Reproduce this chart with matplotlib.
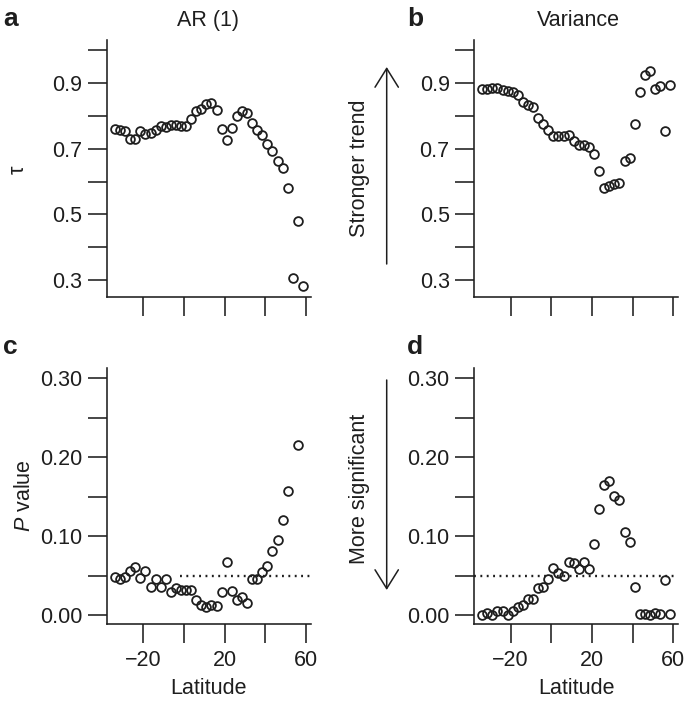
import numpy as np
import matplotlib
matplotlib.use("Agg")
import matplotlib.pyplot as plt
from matplotlib.patches import FancyArrowPatch

plt.rcParams['font.family'] = ['Liberation Sans', 'DejaVu Sans']
plt.rcParams['mathtext.fontset'] = 'custom'
plt.rcParams['mathtext.it'] = 'Liberation Sans:italic'
plt.rcParams['mathtext.rm'] = 'Liberation Sans'

# ---- data ----
latitude = [-34, -31.5, -29, -26.5, -24, -21.5, -19, -16.5, -14, -11.5,
            -9, -6.5, -4, -1.5, 1, 3.5, 6, 8.5, 11, 13.5,
            16, 18.5, 21, 23.5, 26, 28.5, 31, 33.5, 36, 38.5,
            41, 43.5, 46, 48.5, 51, 53.5, 56, 58.5]

tau_ar1 = [0.760, 0.758, 0.753, 0.729, 0.729, 0.754, 0.744, 0.749, 0.758, 0.771,
           0.766, 0.773, 0.773, 0.771, 0.771, 0.791, 0.814, 0.821, 0.836, 0.841,
           0.819, 0.761, 0.728, 0.764, 0.800, 0.814, 0.810, 0.779, 0.758, 0.741,
           0.715, 0.694, 0.663, 0.642, 0.582, 0.305, 0.481, 0.282]

tau_var = [0.882, 0.884, 0.886, 0.886, 0.880, 0.876, 0.872, 0.863, 0.844, 0.833,
           0.829, 0.795, 0.776, 0.758, 0.740, 0.740, 0.740, 0.742, 0.723, 0.711,
           0.712, 0.707, 0.683, 0.633, 0.581, 0.588, 0.593, 0.597, 0.664, 0.671,
           0.777, 0.873, 0.924, 0.936, 0.882, 0.893, 0.754, 0.894]

p_ar1 = [0.048, 0.0456, 0.049, 0.0566, 0.0616, 0.0468, 0.0557, 0.0355, 0.046, 0.0355,
         0.046, 0.0291, 0.034, 0.032, 0.032, 0.032, 0.0194, 0.0131, 0.011, 0.0131,
         0.0122, 0.0291, 0.068, 0.0312, 0.0194, 0.0228, 0.0152, 0.0464, 0.0464, 0.0544,
         0.0629, 0.0819, 0.0954, 0.1207, 0.1574, np.nan, 0.2148, np.nan]

p_var = [0.000, 0.0025, 0.000, 0.005, 0.006, 0.000, 0.006, 0.011, 0.0135, 0.020,
         0.020, 0.034, 0.036, 0.046, 0.060, 0.054, 0.050, 0.0675, 0.0667, 0.058,
         0.0675, 0.059, 0.090, 0.135, 0.165, 0.170, 0.151, 0.146, 0.105, 0.093,
         0.0354, 0.001, 0.001, 0.000, 0.003, 0.001, 0.044, 0.001]

tau_ticks = [0.3, 0.4, 0.5, 0.6, 0.7, 0.8, 0.9, 1.0]
tau_labels = ['0.3', '', '0.5', '', '0.7', '', '0.9', '']
p_ticks = [0.0, 0.05, 0.10, 0.15, 0.20, 0.25, 0.30]
p_labels = ['0.00', '', '0.10', '', '0.20', '', '0.30']
x_ticks = [-20, 0, 20, 40, 60]
x_labels = ['\u221220', '', '20', '', '60']
sig_level = 0.05

# ---- layout ----
W, H = 685, 702
fig = plt.figure(figsize=(W / 100, H / 100), dpi=100)
ink = '#1e1e1e'

def box(x0, y0, x1, y1):
    return [x0 / W, 1 - y1 / H, (x1 - x0) / W, (y1 - y0) / H]

axa = fig.add_axes(box(107, 40, 310.7, 297))
axb = fig.add_axes(box(474.3, 40, 678, 297))
axc = fig.add_axes(box(107, 368, 310.7, 624.3))
axd = fig.add_axes(box(474.3, 368, 678, 624.3))

def style(ax, yt, yl, bottom):
    for s in ['top', 'right']:
        ax.spines[s].set_visible(False)
    for s in ['left', 'bottom']:
        ax.spines[s].set_linewidth(1.15)
        ax.spines[s].set_color(ink)
    ax.set_xlim(-37.9, 62.3)
    ax.set_xticks(x_ticks)
    ax.set_xticklabels(x_labels if bottom else [''] * len(x_ticks))
    ax.set_yticks(yt)
    ax.set_yticklabels(yl)
    ax.tick_params(axis='both', direction='out', length=13.7, width=1.15,
                   color=ink, labelcolor=ink, labelsize=15.5)
    ax.tick_params(axis='x', pad=5)
    ax.tick_params(axis='y', pad=4)

mk = dict(marker='o', linestyle='none', markersize=6.3, markerfacecolor='none',
          markeredgecolor=ink, markeredgewidth=1.3, clip_on=False, zorder=3)

for ax, vals in [(axa, tau_ar1), (axb, tau_var)]:
    ax.plot(latitude, vals, **mk)
    ax.set_ylim(0.248, 1.032)
    style(ax, tau_ticks, tau_labels, False)

for ax, vals in [(axc, p_ar1), (axd, p_var)]:
    ax.plot(latitude, vals, **mk)
    ax.set_ylim(-0.0114, 0.3127)
    style(ax, p_ticks, p_labels, True)
    ax.set_xlabel('Latitude', fontsize=15.5, color=ink, labelpad=5)

axc.plot([-2, 62.3], [sig_level, sig_level], linestyle=(0, (0.8, 1.9)),
         color=ink, lw=1.7, zorder=2, clip_on=False)
axd.plot([-37.9, 62.3], [sig_level, sig_level], linestyle=(0, (0.8, 1.9)),
         color=ink, lw=1.7, zorder=2, clip_on=False)

def ftext(x, y, s, **kw):
    fig.text(x / W, 1 - y / H, s, color=ink, **kw)

ftext(3, 26, 'a', fontsize=19, fontweight='bold', ha='left', va='baseline')
ftext(407, 26, 'b', fontsize=19, fontweight='bold', ha='left', va='baseline')
ftext(3, 354, 'c', fontsize=19, fontweight='bold', ha='left', va='baseline')
ftext(407, 354, 'd', fontsize=19, fontweight='bold', ha='left', va='baseline')

ftext(208, 26, 'AR (1)', fontsize=15.5, ha='center', va='baseline')
ftext(578, 26, 'Variance', fontsize=15.5, ha='center', va='baseline')

ftext(18, 170, '\u03c4', fontsize=15.5, rotation=90, ha='center', va='center')
ftext(25, 496, r'$P$ value', fontsize=15.5, rotation=90, ha='center', va='center')
ftext(359, 168, 'Stronger trend', fontsize=15.5, rotation=90, ha='center', va='center')
ftext(359, 489, 'More significant', fontsize=15.5, rotation=90, ha='center', va='center')

def farrow(x, y0, y1):
    a = FancyArrowPatch((x / W, 1 - y0 / H), (x / W, 1 - y1 / H),
                        transform=fig.transFigure,
                        arrowstyle='->,head_length=13.5,head_width=8.4',
                        mutation_scale=1, lw=1.1, color=ink,
                        shrinkA=0, shrinkB=0)
    fig.add_artist(a)

farrow(386.7, 264, 67)
farrow(386.7, 380, 590)

fig.savefig('out.png', dpi=100)
